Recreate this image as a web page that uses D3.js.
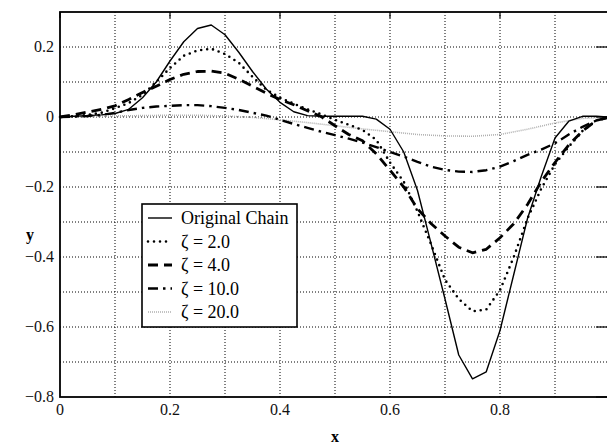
<!DOCTYPE html>
<html>
<head>
<meta charset="utf-8">
<script src="https://cdn.jsdelivr.net/npm/d3@7"></script>
<style>
  body { margin: 0; background: #fff; }
  .grid line { stroke: #000; stroke-width: 1; stroke-dasharray: 1,2; }
</style>
</head>
<body>
<div id="chart"></div>
<script>
// ---- data ----
const xs = [0, 0.025, 0.05, 0.075, 0.1, 0.125, 0.15, 0.175, 0.2, 0.225, 0.25, 0.275, 0.3,
            0.325, 0.35, 0.375, 0.4, 0.425, 0.45, 0.475, 0.5, 0.525, 0.55, 0.575, 0.6,
            0.625, 0.65, 0.675, 0.7, 0.725, 0.75, 0.775, 0.8, 0.825, 0.85, 0.875, 0.9,
            0.925, 0.95, 0.975, 1];

const original = [0, 0.002, 0.004, 0.006, 0.01, 0.022, 0.055, 0.1, 0.16, 0.215, 0.253, 0.263, 0.235,
                  0.185, 0.13, 0.08, 0.042, 0.015, 0.004, 0.002, 0.002, 0.002, 0.002, -0.006, -0.035,
                  -0.1, -0.21, -0.364, -0.52, -0.68, -0.748, -0.728, -0.61, -0.45, -0.29, -0.17, -0.06,
                  -0.012, 0.002, 0.002, 0];

const zeta2 = [0, 0.002, 0.006, 0.012, 0.025, 0.04, 0.063, 0.1, 0.14, 0.175, 0.19, 0.195, 0.18,
               0.155, 0.115, 0.078, 0.055, 0.038, 0.022, 0.008, -0.008, -0.022, -0.037, -0.065, -0.13,
               -0.185, -0.27, -0.365, -0.465, -0.52, -0.555, -0.55, -0.495, -0.4, -0.29, -0.205, -0.135,
               -0.085, -0.04, -0.01, 0];

const zeta4 = [0, 0.006, 0.014, 0.022, 0.032, 0.05, 0.07, 0.088, 0.107, 0.122, 0.13, 0.131, 0.125,
               0.108, 0.088, 0.068, 0.05, 0.035, 0.018, 0.001, -0.025, -0.05, -0.068, -0.105, -0.152,
               -0.2, -0.262, -0.305, -0.34, -0.372, -0.388, -0.378, -0.345, -0.305, -0.25, -0.185, -0.13,
               -0.08, -0.04, -0.01, 0];

const zeta10 = [0, 0.001, 0.003, 0.006, 0.012, 0.02, 0.026, 0.03, 0.032, 0.034, 0.034, 0.031, 0.026,
                0.02, 0.012, 0.004, -0.008, -0.02, -0.031, -0.042, -0.052, -0.062, -0.073, -0.086, -0.1,
                -0.113, -0.128, -0.142, -0.151, -0.156, -0.157, -0.152, -0.142, -0.126, -0.108, -0.093, -0.075,
                -0.05, -0.028, -0.01, 0];

const xs20 = [0, 0.05, 0.1, 0.15, 0.2, 0.25, 0.3, 0.35, 0.4, 0.45, 0.5, 0.55, 0.6, 0.65, 0.7,
              0.75, 0.8, 0.85, 0.9, 0.95, 1];
const zeta20 = [0, 0.001, 0.003, 0.004, 0.005, 0.005, 0.003, -0.001, -0.008, -0.016, -0.025, -0.034,
                -0.042, -0.05, -0.054, -0.055, -0.05, -0.035, -0.017, -0.004, 0];

const legendLabels = ['Original Chain', 'ζ = 2.0', 'ζ = 4.0', 'ζ = 10.0', 'ζ = 20.0'];
const xTickLabels = [0, 0.2, 0.4, 0.6, 0.8];
const yTickLabels = [0.2, 0, -0.2, -0.4, -0.6, -0.8];

const SERIF = "'Liberation Serif', 'Times New Roman', Times, serif";

// ---- layout ----
const width = 607, height = 448;
const margin = { left: 60, top: 12, right: -3, bottom: 51 };

const x = d3.scaleLinear().domain([0, 1]).range([margin.left, width - margin.right]);
const y = d3.scaleLinear().domain([-0.8, 0.3]).range([height - margin.bottom, margin.top]);

const svg = d3.select('#chart').append('svg')
    .attr('width', width)
    .attr('height', height);

// Grid
const grid = svg.append('g').attr('class', 'grid');
grid.selectAll('.gx')
    .data(d3.range(1, 10).map(i => i / 10))
    .enter().append('line')
    .attr('x1', d => x(d)).attr('x2', d => x(d))
    .attr('y1', y(0.3)).attr('y2', y(-0.8));
grid.selectAll('.gy')
    .data(d3.range(-7, 3).map(i => i / 10))
    .enter().append('line')
    .attr('y1', d => y(d)).attr('y2', d => y(d))
    .attr('x1', x(0)).attr('x2', x(1));

// Curves
const line = (xv) => d3.line()
    .x((d, i) => x(xv[i]))
    .y(d => y(d));

const series = [
    { values: original, xv: xs, stroke: '#000', width: 1.4, dash: null, cap: 'butt' },
    { values: zeta2, xv: xs, stroke: '#000', width: 2.6, dash: '0,6', cap: 'round' },
    { values: zeta4, xv: xs, stroke: '#000', width: 2.8, dash: '10,6', cap: 'butt' },
    { values: zeta10, xv: xs, stroke: '#000', width: 2.4, dash: '10,5,2.5,5', cap: 'butt' },
    { values: zeta20, xv: xs20, stroke: '#b0b0b0', width: 1.6, dash: '1,1', cap: 'butt' }
];

const curves = svg.append('g');
curves.selectAll('path')
    .data(series.slice().reverse())
    .enter().append('path')
    .attr('d', s => line(s.xv)(s.values))
    .attr('fill', 'none')
    .attr('stroke', s => s.stroke)
    .attr('stroke-width', s => s.width)
    .attr('stroke-dasharray', s => s.dash)
    .attr('stroke-linecap', s => s.cap)
    .attr('stroke-linejoin', 'round');

// Frame + inward ticks
const axes = svg.append('g');
axes.append('rect')
    .attr('x', x(0)).attr('y', y(0.3))
    .attr('width', x(1) - x(0)).attr('height', y(-0.8) - y(0.3))
    .attr('fill', 'none').attr('stroke', '#000').attr('stroke-width', 1.8);

axes.selectAll('.tx')
    .data(xTickLabels)
    .enter().append('line')
    .attr('x1', d => x(d)).attr('x2', d => x(d))
    .attr('y1', y(0.3)).attr('y2', y(0.3) + 6)
    .attr('stroke', '#000').attr('stroke-width', 1.2);
axes.selectAll('.tr')
    .data(yTickLabels)
    .enter().append('line')
    .attr('x1', x(1)).attr('x2', x(1) - 14)
    .attr('y1', d => y(d)).attr('y2', d => y(d))
    .attr('stroke', '#000').attr('stroke-width', 1.2);

// Tick labels
const fmt = d => d === 0 ? '0' : (d < 0 ? '\u2212' + Math.abs(d).toFixed(1) : d.toFixed(1));
svg.append('g').selectAll('text')
    .data(xTickLabels)
    .enter().append('text')
    .attr('font-family', SERIF).attr('font-size', 16).attr('fill', '#111')
    .attr('x', d => x(d))
    .attr('y', y(-0.8) + 18)
    .attr('text-anchor', 'middle')
    .text(fmt);
svg.append('g').selectAll('text')
    .data(yTickLabels)
    .enter().append('text')
    .attr('font-family', SERIF).attr('font-size', 16).attr('fill', '#111')
    .attr('x', x(0) - 6)
    .attr('y', d => y(d) + 5)
    .attr('text-anchor', 'end')
    .text(fmt);

// Axis titles
svg.append('text')
    .attr('font-family', SERIF)
    .attr('x', 335).attr('y', 442)
    .attr('text-anchor', 'middle')
    .attr('font-size', 16).attr('font-weight', 'bold')
    .text('x');
svg.append('text')
    .attr('font-family', SERIF)
    .attr('x', 30).attr('y', 240)
    .attr('text-anchor', 'middle')
    .attr('font-size', 16).attr('font-weight', 'bold')
    .text('y');

// Legend
const legend = svg.append('g').attr('transform', 'translate(142,204)');
legend.append('rect')
    .attr('width', 155).attr('height', 123)
    .attr('fill', '#fff').attr('stroke', '#000').attr('stroke-width', 1.6);
const item = legend.selectAll('.item')
    .data(series)
    .enter().append('g')
    .attr('transform', (d, i) => `translate(0,${14 + i * 23.5})`);
item.append('line')
    .attr('x1', 6).attr('x2', 30)
    .attr('stroke', s => s.stroke)
    .attr('stroke-width', s => s.width)
    .attr('stroke-dasharray', s => s.dash)
    .attr('stroke-linecap', s => s.cap);
item.append('text')
    .attr('font-family', SERIF)
    .attr('x', 39).attr('y', 6)
    .attr('font-size', 18)
    .text((d, i) => legendLabels[i]);
</script>
</body>
</html>
